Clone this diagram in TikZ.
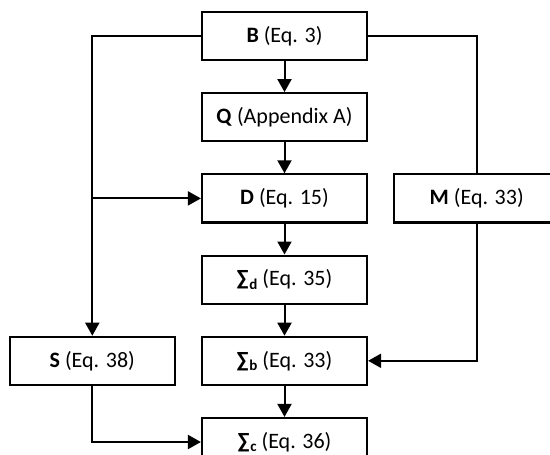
\documentclass[tikz,border=0pt]{standalone}
\usepackage{fontspec}
\setmainfont{Carlito}
\usetikzlibrary{positioning,arrows.meta}

\newcommand{\sumsub}[1]{{\bfseries ∑\kern0.03em\raisebox{-0.3ex}{\fontsize{7.5}{8}\selectfont #1}}}

\begin{document}
\begin{tikzpicture}[-{Triangle[length=6.5pt,width=7pt]}, line width=1pt,
  node distance=15.5pt and 12.5pt,
  block/.style={rectangle, draw, line width=1.1pt, minimum width=82.5pt, minimum height=24pt,
    inner sep=2pt, font=\fontsize{11}{13}\selectfont}]

  \useasboundingbox (0,0) rectangle (275pt,-227pt);

  \node[block] (B) at (142.25pt,-18pt) {\textbf{B} (Eq. 3)};
  \node[block] (Q) [below=of B] {\textbf{Q} (Appendix A)};
  \node[block] (D) [below=of Q] {\textbf{D} (Eq. 15)};
  \node[block] (Sd) [below=of D] {\sumsub{d} (Eq. 35)};
  \node[block] (Sb) [below=of Sd] {\sumsub{b} (Eq. 33)};
  \node[block] (Sc) [below=of Sb] {\sumsub{c} (Eq. 36)};
  \node[block] (M) [right=of D] {\textbf{M} (Eq. 33)};
  \node[block] (S) [left=of Sb] {\textbf{S} (Eq. 38)};

  \coordinate (jl) at (S |- D);

  % main column
  \draw (B) -- (Q);
  \draw (Q) -- (D);
  \draw (D) -- (Sd);
  \draw (Sd) -- (Sb);
  \draw (Sb) -- (Sc);

  % side branches
  \draw (B.west) -| (S.north);
  \draw (jl) -- (D.west);
  \draw[-] (B.east) -| (M.north);
  \draw (M.south) |- (Sb.east);
  \draw (S.south) |- (Sc.west);

\end{tikzpicture}
\end{document}
